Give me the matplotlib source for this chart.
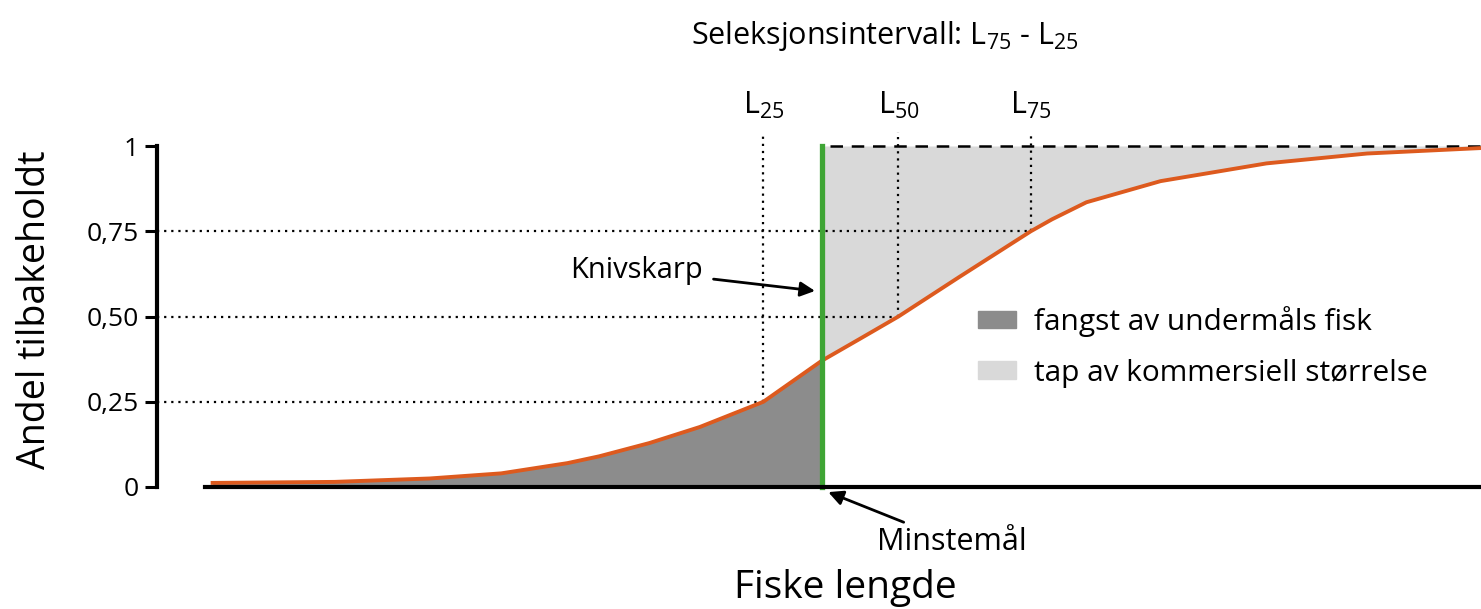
import matplotlib.pyplot as plt
from matplotlib.patches import Patch

plt.rcParams['font.family'] = ['Open Sans', 'DejaVu Sans']

# fish length (arbitrary units) and share retained
length = [2.1, 6.7, 10.3, 13.0, 15.5, 16.7, 18.6, 20.5, 22.9, 25.1, 26.6, 28.0,
          30.3, 33.0, 33.8, 35.1, 37.9, 41.9, 45.7, 50.0]
retained = [0.012, 0.015, 0.025, 0.040, 0.070, 0.090, 0.129, 0.176, 0.25, 0.37,
            0.437, 0.50, 0.616, 0.75, 0.785, 0.835, 0.897, 0.949, 0.978, 0.994]

min_length = 25.1
l_values = [22.9, 28.0, 33.0]
l_shares = [0.25, 0.50, 0.75]
l_names = ['25', '50', '75']

yticks = [0, 0.25, 0.50, 0.75, 1]
ytick_labels = ['0', '0,25', '0,50', '0,75', '1']

orange = '#dd5a1e'
dark = '#8c8c8c'
light = '#d9d9d9'
green = '#3fa535'

fig = plt.figure(figsize=(14.81, 6.09), dpi=100)
ax = fig.add_axes([157 / 1481, 1 - 487 / 609, 1 - 157 / 1481, (487 - 146) / 609])
ax.set_xlim(0, 50)
ax.set_ylim(0, 1)

below = [(x, y) for x, y in zip(length, retained) if x <= min_length]
above = [(x, y) for x, y in zip(length, retained) if x >= min_length]
ax.fill_between([p[0] for p in below], 0, [p[1] for p in below], color=dark, lw=0)
ax.fill_between([p[0] for p in above], [p[1] for p in above], 1, color=light, lw=0)

# dotted guide lines for L25, L50, L75
for lv, share in zip(l_values, l_shares):
    ax.plot([0, lv], [share, share], color='black', lw=1.6, ls=(0, (1, 2.2)), clip_on=False)
    ax.plot([lv, lv], [share, 1.04], color='black', lw=1.6, ls=(0, (1, 2.2)), clip_on=False)
for lv, name in zip(l_values, l_names):
    ax.text(lv, 1.12, r'$\mathregular{L_{%s}}$' % name, ha='center', va='center', fontsize=22)

ax.plot([min_length + 0.3, 50], [1, 1], color='black', lw=1.8, ls=(0, (5, 3.5)), clip_on=False)
ax.plot(length, retained, color=orange, lw=2.8, clip_on=False, zorder=4,
        solid_joinstyle='round')
ax.plot([min_length, min_length], [0, 1], color=green, lw=3.8, clip_on=False, zorder=5)

ax.annotate('Knivskarp', xy=(24.85, 0.575), xytext=(20.6, 0.636), ha='right', va='center',
            fontsize=21, arrowprops=dict(arrowstyle='-|>', color='black', lw=2,
                                         mutation_scale=22, shrinkA=6, shrinkB=0))
ax.annotate('Minstemål', xy=(25.35, -0.015), xytext=(27.2, -0.16), ha='left', va='center',
            fontsize=22, annotation_clip=False,
            arrowprops=dict(arrowstyle='-|>', color='black', lw=2,
                            mutation_scale=22, shrinkA=3, shrinkB=0))

for side in ['top', 'right']:
    ax.spines[side].set_visible(False)
ax.spines['left'].set_linewidth(3)
ax.spines['left'].set_bounds(0, 1)
ax.spines['bottom'].set_linewidth(3)
ax.spines['bottom'].set_bounds(1.8, 50)
ax.spines['bottom'].set_zorder(6)
ax.set_xticks([])
ax.set_yticks(yticks)
ax.set_yticklabels(ytick_labels, fontsize=19)
ax.tick_params(axis='y', length=9, width=2.2, pad=4)

fig.text(35 / 1481, 1 - 310 / 609, 'Andel tilbakeholdt', rotation=90,
         ha='center', va='center', fontsize=27)
fig.text(845 / 1481, 1 - 588 / 609, 'Fiske lengde', ha='center', va='center', fontsize=28)
fig.text(885 / 1481, 1 - 36 / 609,
         r'Seleksjonsintervall: $\mathregular{L_{75}}$ - $\mathregular{L_{25}}$',
         ha='center', va='center', fontsize=22)

handles = [Patch(color=dark), Patch(color=light)]
ax.legend(handles, ['fangst av undermåls fisk', 'tap av kommersiell størrelse'],
          loc='upper left', bbox_to_anchor=(0.62, 0.53), frameon=False, fontsize=21.5,
          handlelength=1.28, handleheight=0.52, handletextpad=0.6, labelspacing=0.72,
          borderpad=0, borderaxespad=0)

fig.savefig('out.png', dpi=100)
